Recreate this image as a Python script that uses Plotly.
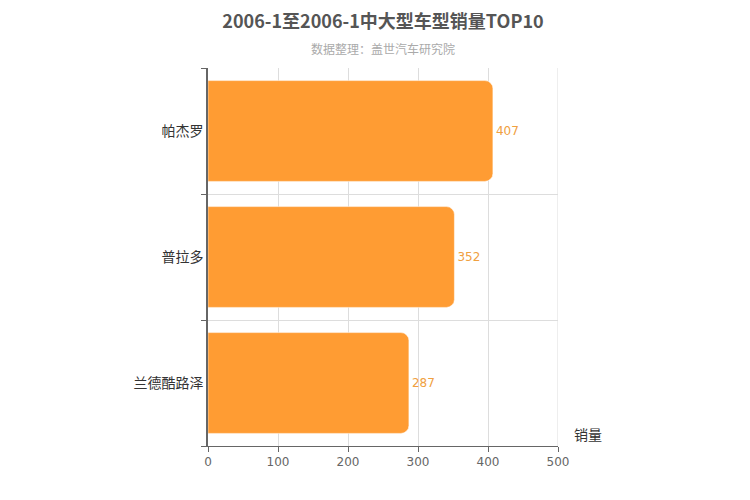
import plotly.graph_objs as go

# Sales data, top to bottom
models = ["帕杰罗", "普拉多", "兰德酷路泽"]
sales = [407, 352, 287]
positions = [0, 1, 2]

fig = go.Figure()
fig.add_trace(go.Bar(
    x=sales, y=positions, orientation="h",
    width=0.8,
    marker=dict(color="#FF9C33", cornerradius=8),
    text=sales, textposition="outside",
    textfont=dict(color="#F0A040", size=12, family="DejaVu Sans"),
    cliponaxis=False,
))

fig.update_layout(
    width=750, height=500,
    template="plotly_white",
    plot_bgcolor="white",
    margin={"t": 60, "l": 200, "r": 200, "b": 62},
    font=dict(family="Noto Sans CJK SC, DejaVu Sans", color="#333"),
    showlegend=False,
    title={"text": "<b>2006-1至2006-1中大型车型销量TOP10</b>",
           "x": 0.5, "xanchor": "center", "y": 0.985, "yanchor": "top",
           "font": {"size": 18, "color": "#555"}},
    annotations=[
        dict(text="数据整理：盖世汽车研究院", x=0.5, y=1, xref="paper", yref="paper",
             yanchor="middle", yshift=20, showarrow=False, font=dict(size=12, color="#aaa")),
        dict(text="销量", x=1, y=0, xref="paper", yref="paper", xanchor="left",
             yanchor="bottom", xshift=14, showarrow=False, font=dict(size=14, color="#333")),
    ],
)

fig.update_xaxes(
    range=[0, 500], dtick=100, showgrid=True, gridcolor="#ddd",
    showline=True, linecolor="#666", ticks="outside", ticklen=5, tickcolor="#666",
    tickfont=dict(size=12, color="#666", family="DejaVu Sans"), zeroline=False,
)
fig.update_yaxes(
    range=[2.5, -0.5], tickvals=positions, ticktext=models, showgrid=False,
    showline=True, linecolor="#666", linewidth=1.5, ticks="",
    tickfont=dict(size=14, color="#333"), zeroline=False,
    minor=dict(tick0=0.5, dtick=1, showgrid=True, gridcolor="#ddd",
               ticks="outside", ticklen=5, tickcolor="#666"),
)
fig.add_shape(type="line", xref="x", yref="paper", x0=500, x1=500, y0=0, y1=1,
              line=dict(color="#ddd", width=1))

fig.write_html("out.html")
